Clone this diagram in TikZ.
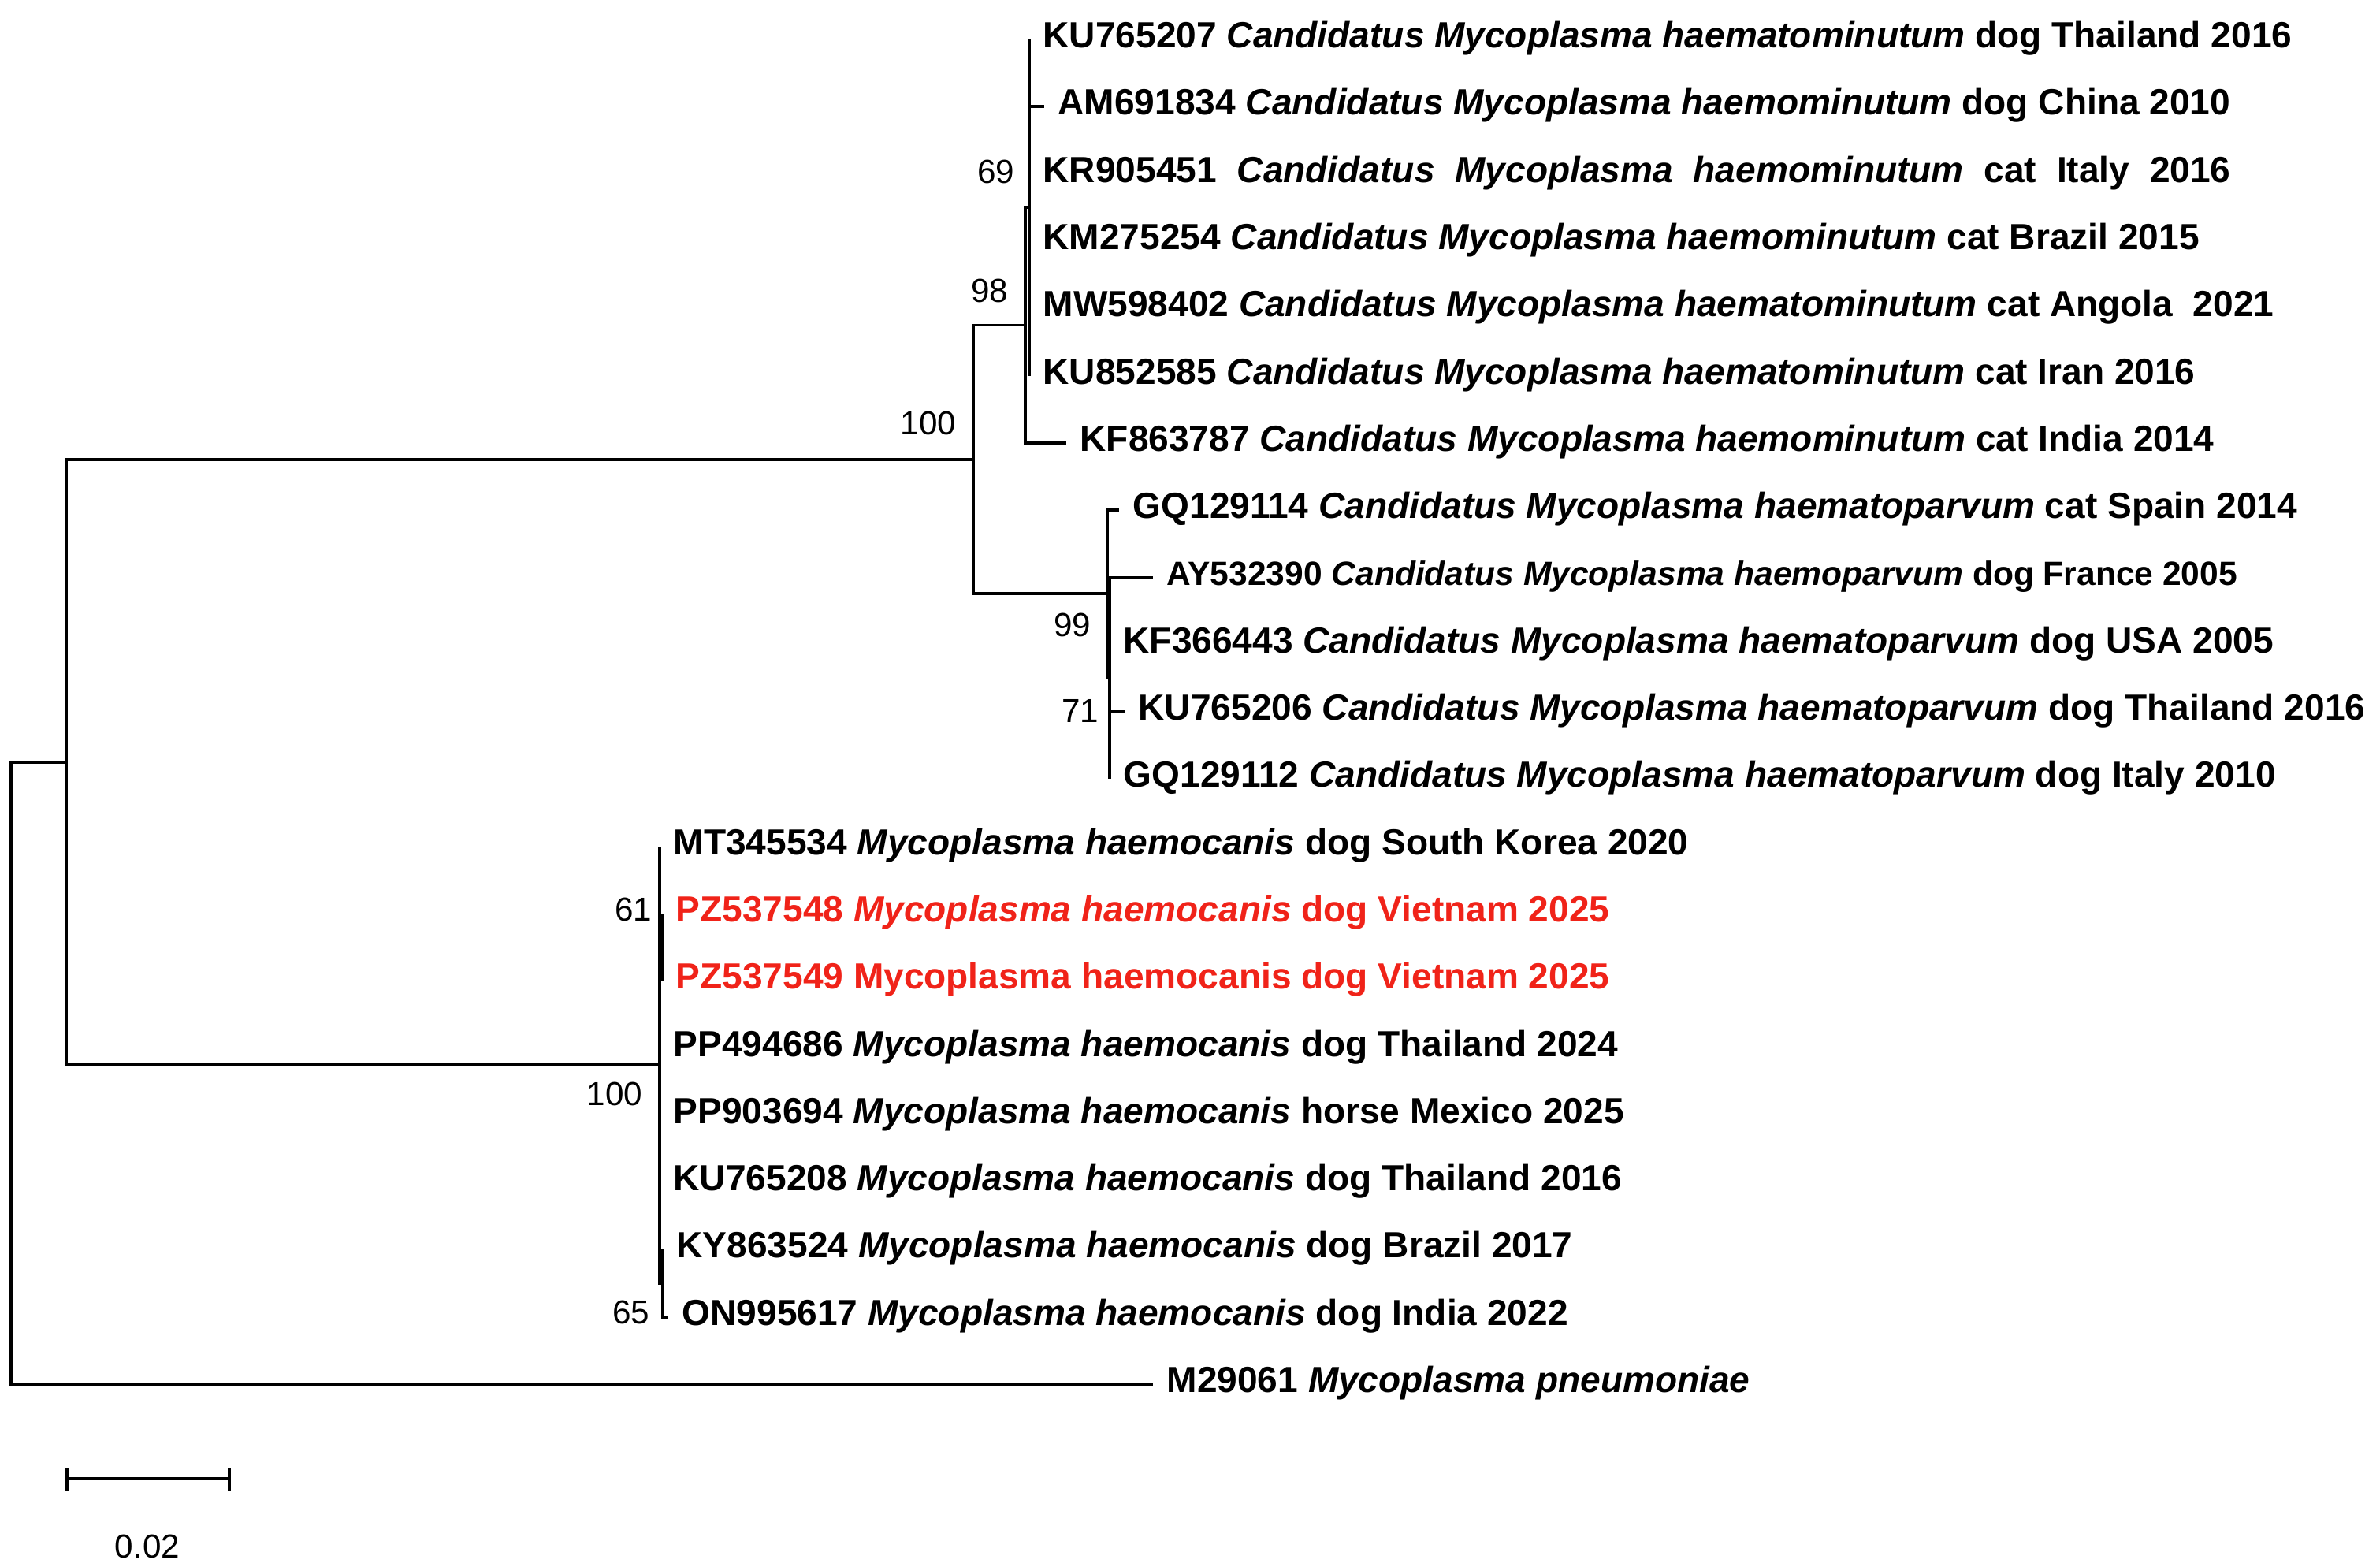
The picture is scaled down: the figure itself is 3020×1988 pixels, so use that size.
\documentclass[tikz,border=0pt]{standalone}
\usepackage{fontspec}
\setmainfont{Liberation Sans}
\usetikzlibrary{calc}
\definecolor{vnred}{RGB}{240,35,25}
\begin{document}
\begin{tikzpicture}[x=0.01cm,y=-0.01cm,
  br/.style={line width=1pt},
  sbar/.style={line width=1.2pt},
  lab/.style={anchor=base west, inner sep=0pt, xshift=0.17cm, yshift=-0.10cm,
    font=\fontsize{13.1}{15}\selectfont\bfseries},
  smalllab/.style={lab, yshift=0.01cm, font=\fontsize{12.1}{14}\selectfont\bfseries},
  redlab/.style={lab, text=vnred},
  boot/.style={anchor=east, inner sep=0pt, font=\fontsize{12}{14}\selectfont}]
\useasboundingbox (0,0) rectangle (3020,1988);
% internal nodes
\coordinate (R) at (14,1361.7);
\coordinate (A) at (84,967.5);
\coordinate (U) at (1235,583);
\coordinate (N98) at (1301,412.5);
\coordinate (N69) at (1306,263);
\coordinate (N99) at (1405,753);
\coordinate (W) at (1408,860);
\coordinate (L) at (837,1351);
\coordinate (N61) at (840,1201);
\coordinate (N65) at (841,1628);
% tips
\coordinate (t1) at (1306,50);
\coordinate (t2) at (1325,135);
\coordinate (t3) at (1306,221);
\coordinate (t4) at (1306,306);
\coordinate (t5) at (1306,391);
\coordinate (t6) at (1306,477);
\coordinate (t7) at (1353,562);
\coordinate (t8) at (1420,647);
\coordinate (t9) at (1463,733);
\coordinate (t10) at (1408,818);
\coordinate (t11) at (1427,903);
\coordinate (t12) at (1408,988);
\coordinate (t13) at (837,1074);
\coordinate (t14) at (840,1159);
\coordinate (t15) at (840,1244);
\coordinate (t16) at (837,1330);
\coordinate (t17) at (837,1415);
\coordinate (t18) at (837,1500);
\coordinate (t19) at (841,1585);
\coordinate (t20) at (848,1671);
\coordinate (t21) at (1463,1756);
% branches
\draw[br] (R) |- (A);
\draw[br] (R) |- (t21);
\draw[br] (A) |- (U);
\draw[br] (A) |- (L);
\draw[br] (U) |- (N98);
\draw[br] (U) |- (N99);
\draw[br] (N98) |- (N69);
\draw[br] (N98) |- (t7);
\foreach \t in {t1,t2,t3,t4,t5,t6} \draw[br] (N69) |- (\t);
\draw[br] (N99) |- (t8);
\draw[br] (N99) |- (W);
\foreach \t in {t9,t10,t11,t12} \draw[br] (W) |- (\t);
\foreach \t in {t13,N61,t16,t17,t18,N65} \draw[br] (L) |- (\t);
\draw[br] (N61) |- (t14);
\draw[br] (N61) |- (t15);
\draw[br] (N65) |- (t19);
\draw[br] (N65) |- (t20);
% leaf labels
\node[lab] (l1) at (t1) {KU765207 \textit{Candidatus Mycoplasma haematominutum} dog Thailand 2016};
\node[lab] (l2) at (t2) {AM691834 \textit{Candidatus Mycoplasma haemominutum} dog China 2010};
\node[lab] (l3) at (t3) {\makebox[15.06cm][l]{KR905451\hfill\textit{Candidatus}\hfill\textit{Mycoplasma}\hfill\textit{haemominutum}\hfill cat\hfill Italy\hfill 2016}};
\node[lab] (l4) at (t4) {KM275254 \textit{Candidatus Mycoplasma haemominutum} cat Brazil 2015};
\node[lab] (l5) at (t5) {MW598402 \textit{Candidatus Mycoplasma haematominutum} cat Angola\ \ 2021};
\node[lab] (l6) at (t6) {KU852585 \textit{Candidatus Mycoplasma haematominutum} cat Iran 2016};
\node[lab] (l7) at (t7) {KF863787 \textit{Candidatus Mycoplasma haemominutum} cat India 2014};
\node[lab] (l8) at (t8) {GQ129114 \textit{Candidatus Mycoplasma haematoparvum} cat Spain 2014};
\node[smalllab] (l9) at (t9) {AY532390 \textit{Candidatus Mycoplasma haemoparvum} dog France 2005};
\node[lab] (l10) at (t10) {KF366443 \textit{Candidatus Mycoplasma haematoparvum} dog USA 2005};
\node[lab] (l11) at (t11) {KU765206 \textit{Candidatus Mycoplasma haematoparvum} dog Thailand 2016};
\node[lab] (l12) at (t12) {GQ129112 \textit{Candidatus Mycoplasma haematoparvum} dog Italy 2010};
\node[lab] (l13) at (t13) {MT345534 \textit{Mycoplasma haemocanis} dog South Korea 2020};
\node[redlab] (l14) at (t14) {PZ537548 \textit{Mycoplasma haemocanis} dog Vietnam 2025};
\node[redlab] (l15) at (t15) {PZ537549 Mycoplasma haemocanis dog Vietnam 2025};
\node[lab] (l16) at (t16) {PP494686 \textit{Mycoplasma haemocanis} dog Thailand 2024};
\node[lab] (l17) at (t17) {PP903694 \textit{Mycoplasma haemocanis} horse Mexico 2025};
\node[lab] (l18) at (t18) {KU765208 \textit{Mycoplasma haemocanis} dog Thailand 2016};
\node[lab] (l19) at (t19) {KY863524 \textit{Mycoplasma haemocanis} dog Brazil 2017};
\node[lab] (l20) at (t20) {ON995617 \textit{Mycoplasma haemocanis} dog India 2022};
\node[lab] (l21) at (t21) {M29061 \textit{Mycoplasma pneumoniae}};
% bootstrap values
\node[boot] (b69) at (1288,218) {69};
\node[boot] (b98) at (1280,369) {98};
\node[boot] (b100u) at (1214,537) {100};
\node[boot] (b99) at (1385,793) {99};
\node[boot] (b71) at (1395,902) {71};
\node[boot] (b61) at (828,1154) {61};
\node[boot] (b100l) at (816,1388) {100};
\node[boot] (b65) at (825,1665) {65};
% scale bar
\coordinate (sb1) at (85,1876);
\coordinate (sb2) at (291,1876);
\draw[sbar] (sb1) -- (sb2);
\draw[sbar] ($(sb1)+(0,-14)$) -- ($(sb1)+(0,15)$);
\draw[sbar] ($(sb2)+(0,-14)$) -- ($(sb2)+(0,15)$);
\node[boot, anchor=center] (sbl) at (187,1962) {0.02};
\end{tikzpicture}
\end{document}
